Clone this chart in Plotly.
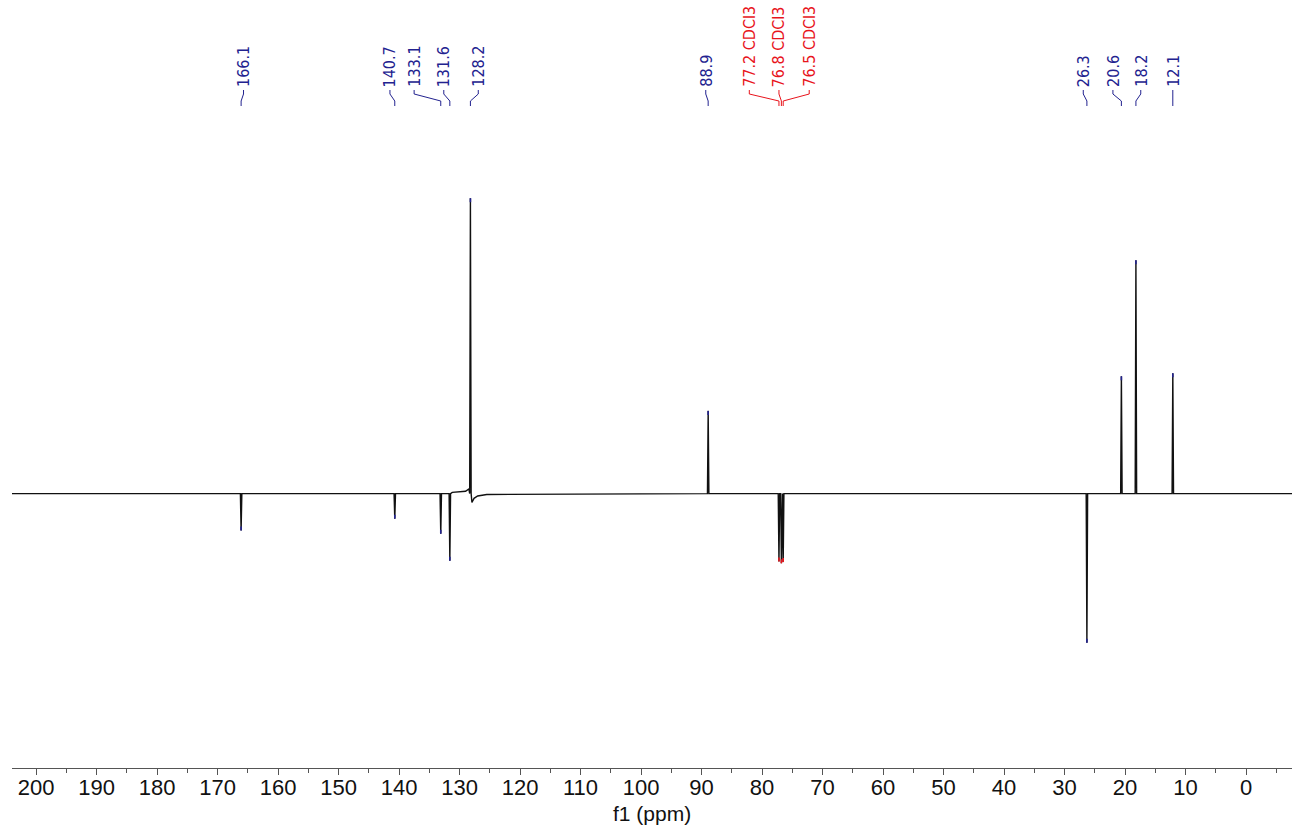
import plotly.graph_objects as go

# ---- data ----
peak_ppm = [166.1, 140.7, 133.1, 131.6, 128.2, 88.9, 77.2, 76.8, 76.5, 26.3, 20.6, 18.2, 12.1]
peak_int = [-12.5, -8.5, -13.6, -22.7, 100.0, 28.0, -23.0, -23.6, -23.2, -50.5, 39.7, 79.0, 40.7]
peak_text = ["166.1", "140.7", "133.1", "131.6", "128.2", "88.9",
             "77.2 CDCl3", "76.8 CDCl3", "76.5 CDCl3", "26.3", "20.6", "18.2", "12.1"]
peak_solvent = [False, False, False, False, False, False, True, True, True, False, False, False, False]
label_ppm = [165.7, 141.5, 137.5, 132.6, 126.9, 89.3, 82.1, 77.2, 72.2, 26.9, 22.0, 17.4, 12.1]

# small baseline distortions around the 128.2 ppm line (ppm, intensity)
base_ppm = [131.2, 129.0, 128.45, 127.95, 127.6, 127.0, 125.5]
base_int = [0.4, 0.8, 1.6, -3.0, -1.6, -0.8, -0.3]

x_ticks = list(range(0, 201, 10))

# ---- styles ----
BLUE = "#22228f"
RED = "#e8141c"
X_RANGE = [203.97, -7.6]
Y_RANGE = [-92.9, 167.1]
PLOT_H = 768
PX_PER_UNIT = PLOT_H / (Y_RANGE[1] - Y_RANGE[0])


def y_of_px(px):
    # pixel row (from top of plot area) -> data value
    return Y_RANGE[1] - px / PX_PER_UNIT


# ---- build spectrum trace from the peak list ----
pts = [(X_RANGE[0], 0.0), (X_RANGE[1], 0.0)]
hw = 0.12
for p, h in zip(peak_ppm, peak_int):
    pts += [(p + hw, 0.0), (p, h), (p - hw, 0.0)]
for p, h in zip(base_ppm, base_int):
    pts.append((p, h))
pts.sort(key=lambda t: -t[0])
sx = [t[0] for t in pts]
sy = [t[1] for t in pts]

fig = go.Figure()
fig.add_trace(go.Scatter(x=sx, y=sy, mode="lines",
                         line=dict(color="#111111", width=1.4),
                         hoverinfo="skip", showlegend=False))

# coloured tips of the peaks
tip = 4 / PX_PER_UNIT
for p, h, solv in zip(peak_ppm, peak_int, peak_solvent):
    sgn = 1 if h > 0 else -1
    fig.add_trace(go.Scatter(x=[p, p], y=[h - sgn * tip, h], mode="lines",
                             line=dict(color=RED if solv else BLUE, width=1.6),
                             hoverinfo="skip", showlegend=False))

# connectors from labels to peaks
y0c, y1c, y2c, y3c = y_of_px(90), y_of_px(94), y_of_px(101), y_of_px(106)
for p, lp, solv in zip(peak_ppm, label_ppm, peak_solvent):
    fig.add_trace(go.Scatter(x=[lp, lp, p, p], y=[y0c, y1c, y2c, y3c], mode="lines",
                             line=dict(color=RED if solv else BLUE, width=1),
                             hoverinfo="skip", showlegend=False))

annotations = []
label_font = "Liberation Sans Narrow, DejaVu Sans Condensed, Roboto Condensed, Arial Narrow, Liberation Sans, sans-serif"
for t, lp, solv in zip(peak_text, label_ppm, peak_solvent):
    annotations.append(dict(x=lp, y=y_of_px(89), xref="x", yref="y", text=t,
                            textangle=-90, showarrow=False, xanchor="center", yanchor="bottom",
                            font=dict(family=label_font, size=16, color=RED if solv else BLUE)))

annotations.append(dict(x=(652 - 12) / 1280, y=-(813 - PLOT_H) / PLOT_H, xref="paper", yref="paper",
                        text="f1 (ppm)", showarrow=False, xanchor="center", yanchor="middle",
                        font=dict(family="Liberation Sans, Arial, sans-serif", size=21, color="#111111")))

fig.update_layout(
    width=1292, height=829,
    margin=dict(l=12, r=0, t=0, b=829 - PLOT_H, autoexpand=False),
    paper_bgcolor="white", plot_bgcolor="white",
    annotations=annotations,
    xaxis=dict(range=X_RANGE, tickvals=x_ticks, ticktext=[str(v) for v in x_ticks],
               showgrid=False, zeroline=False, showline=True, linecolor="#555555", linewidth=1.2,
               ticks="outside", ticklen=6, tickwidth=1.2, tickcolor="#555555",
               ticklabelstandoff=-7,
               tickfont=dict(family="Liberation Sans, Arial, sans-serif", size=22, color="#111111"),
               minor=dict(tickvals=[v + 5 for v in x_ticks] + [-5], ticks="outside", ticklen=3.5,
                          tickwidth=1, tickcolor="#555555", showgrid=False)),
    yaxis=dict(range=Y_RANGE, visible=False, showgrid=False, zeroline=False),
)

fig.write_html("out.html", config={"displayModeBar": False},
               post_script="document.body.style.margin='0';")
